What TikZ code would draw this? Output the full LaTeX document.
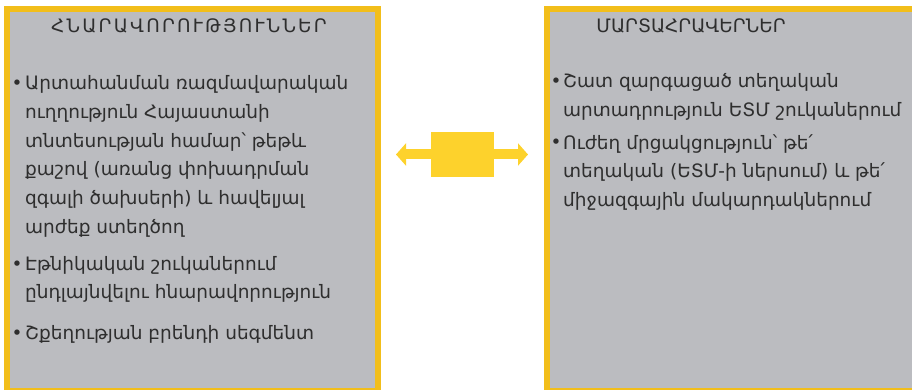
\documentclass[tikz,border=0pt]{standalone}
\usepackage{fontspec}
\setmainfont{DejaVu Sans}
\usetikzlibrary{arrows.meta}
\definecolor{boxfill}{HTML}{BBBCC0}
\definecolor{frame}{HTML}{F2BE1A}
\definecolor{arrowyellow}{HTML}{FDD22C}
\definecolor{ink}{HTML}{2E2E2E}
\newcommand{\bodysize}{\fontsize{18.5}{28.6}\selectfont}
\begin{document}
\begin{tikzpicture}[x=1pt,y=-1pt,
  panel/.style={draw=frame, fill=boxfill, line width=6pt, rectangle, inner sep=0pt},
  heading/.style={anchor=base, font=\bodysize, text=ink, inner sep=0pt},
  % multi-line items are placed by the baseline of their last line
  itemtext/.style={anchor=base west, align=left, font=\bodysize, text=ink, inner sep=0pt},
  bulletdot/.style={anchor=base, font=\bodysize, text=ink, inner sep=0pt},
  hubbox/.style={fill=arrowyellow, rectangle, inner sep=0pt, minimum width=63pt, minimum height=45pt},
  twoway/.style={draw=arrowyellow, line width=10pt, -{Triangle[length=10pt,width=22pt]}}]
\useasboundingbox (0,0) rectangle (912,390);
\clip (0,0) rectangle (912,390);

% panels
\node[panel, minimum width=370.5pt, minimum height=381.5pt] (lbox) at (192.25,200.25) {};
\node[panel, minimum width=383pt, minimum height=381.5pt] (rbox) at (738.5,200.25) {};

% central double arrow
\node[hubbox] (hub) at (462.5,154.5) {};
\coordinate (ltip) at (396,154.5);
\coordinate (rtip) at (528,154.5);
\draw[twoway] (hub.west) -- (ltip);
\draw[twoway] (hub.east) -- (rtip);

% left panel text
\node[heading] (ltitle) at (189,33) {\addfontfeature{LetterSpace=12}ՀՆԱՐԱՎՈՐՈՒԹՅՈՒՆՆԵՐ};
\node[bulletdot] (lb1) at (17,90) {•};
\node[itemtext] (lt1) at (25,233) {Արտահանման ռազմավարական\\ուղղություն Հայաստանի\\տնտեսության համար՝ թեթև\\քաշով (առանց փոխադրման\\զգալի ծախսերի) և հավելյալ\\արժեք ստեղծող};
\node[bulletdot] (lb2) at (17,270) {•};
\node[itemtext] (lt2) at (25,298.6) {Էթնիկական շուկաներում\\ընդլայնվելու հնարավորություն};
\node[bulletdot] (lb3) at (17,339) {•};
\node[itemtext] (lt3) at (25,339) {Շքեղության բրենդի սեգմենտ};

% right panel text
\node[heading] (rtitle) at (691,33) {ՄԱՐՏԱՀՐԱՎԵՐՆԵՐ};
\node[bulletdot] (rb1) at (556,88) {•};
\node[itemtext] (rt1) at (563,116.6) {Շատ զարգացած տեղական\\արտադրություն ԵՏՄ շուկաներում};
\node[bulletdot] (rb2) at (556,149) {•};
\node[itemtext] (rt2) at (563,206.2) {Ուժեղ մրցակցություն՝ թե՛\\տեղական (ԵՏՄ-ի ներսում) և թե՛\\միջազգային մակարդակներում};
\end{tikzpicture}
\end{document}
